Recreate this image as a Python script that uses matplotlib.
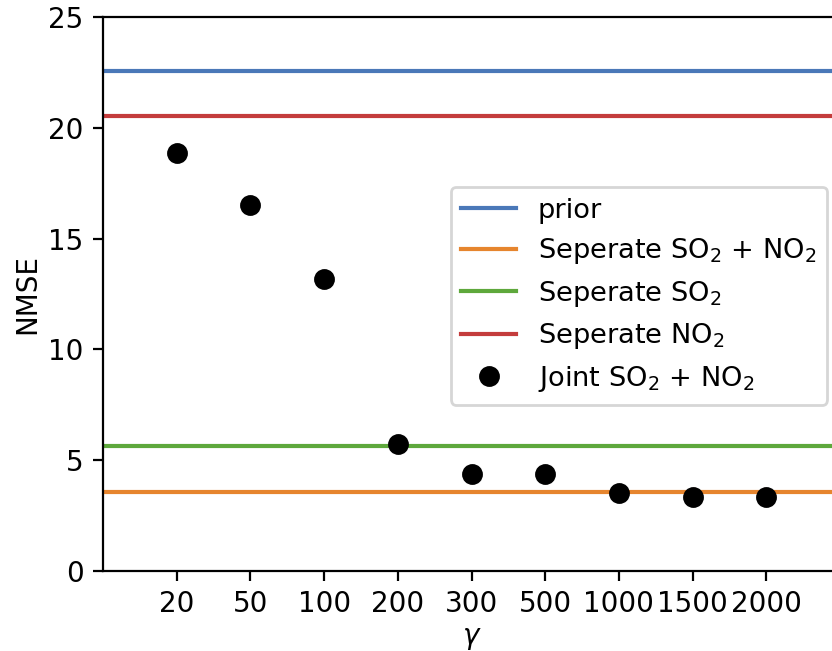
import matplotlib
matplotlib.use("Agg")
import matplotlib.pyplot as plt
import numpy as np

gammas = ["20", "50", "100", "200", "300", "500", "1000", "1500", "2000"]
joint = [18.85, 16.52, 13.18, 5.73, 4.38, 4.38, 3.53, 3.36, 3.34]
prior = 22.55
sep_both = 3.56
sep_so2 = 5.64
sep_no2 = 20.53

W, H, DPI = 832, 651, 200
fig = plt.figure(figsize=(W / DPI, H / DPI), dpi=DPI)
ax = fig.add_axes([103 / W, 1 - 571 / H, (840 - 103) / W, (571 - 17) / H])

x = np.arange(len(gammas))
ax.axhline(prior, color="#4a78b8", label="prior")
ax.axhline(sep_both, color="#e6852e", label="Seperate SO$_2$ + NO$_2$")
ax.axhline(sep_so2, color="#5ea83c", label="Seperate SO$_2$")
ax.axhline(sep_no2, color="#c43c3c", label="Seperate NO$_2$")
ax.plot(x, joint, "o", color="black", markersize=6.5, linestyle="none",
        label="Joint SO$_2$ + NO$_2$")

ax.set_xlim(-1, 9)
ax.set_ylim(0, 25)
ax.set_xticks(x)
ax.set_xticklabels(gammas)
ax.set_yticks([0, 5, 10, 15, 20, 25])
ax.set_xlabel(r"$\gamma$", labelpad=2)
ax.set_ylabel("NMSE", labelpad=2.5)

ax.legend(loc="upper right", bbox_to_anchor=(827 / W, 1 - 187 / H),
          bbox_transform=fig.transFigure, borderaxespad=0, labelspacing=0.46,
          fontsize=9.8)

fig.savefig("out.png", dpi=DPI)
